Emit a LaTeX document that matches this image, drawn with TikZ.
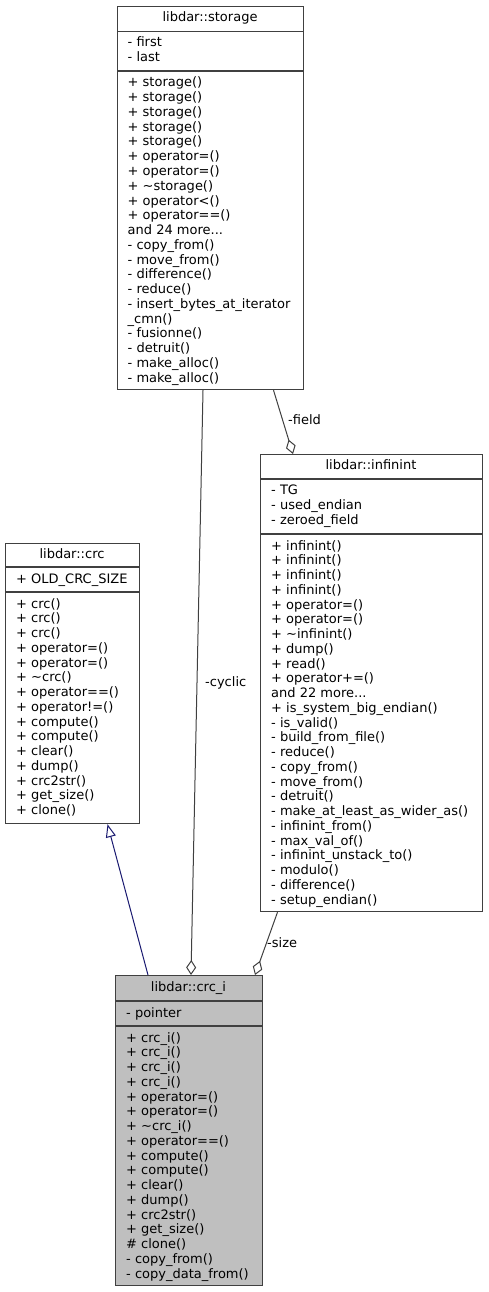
\documentclass[tikz,border=0pt]{standalone}
\usepackage{fontspec}
\setmainfont{DejaVu Sans}
\usetikzlibrary{arrows.meta}
\definecolor{nodeborder}{HTML}{404040}
\definecolor{edgegray}{HTML}{404040}
\definecolor{midnight}{HTML}{191970}
\definecolor{hlfill}{HTML}{BFBFBF}
\newcommand\fs{\fontsize{13pt}{14.75pt}\selectfont}
\newcommand\mlines[4]{\foreach \t [count=\i from 0] in {#3} \node[mtext] (#4-\i) at (#1,{#2+\i*14.75}) {\t};}
\begin{document}
\begin{tikzpicture}[x=1pt,y=-1pt,
  box/.style={draw=nodeborder, line width=1.2pt, inner sep=0pt, anchor=north west},
  sep/.style={draw=nodeborder, line width=1.2pt},
  mtext/.style={anchor=base west, inner sep=0pt, font=\fs},
  ttext/.style={anchor=base, inner sep=0pt, font=\fs},
  rel/.style={draw=edgegray, line width=1pt, -{Diamond[open,length=15pt,width=10pt,line width=1pt]}},
  inh/.style={draw=midnight, line width=1pt, -{Triangle[open,length=13pt,width=10pt,line width=1pt]}},
  elabel/.style={anchor=base west, inner sep=0pt, font=\fs}]
\useasboundingbox[fill=white] (0,0) rectangle (488,1292);

% storage
\node[box, minimum width=186, minimum height=383] (storage) at (117,6) {};
\draw[sep] (117,31.5) -- (303,31.5);
\draw[sep] (117,71) -- (303,71);
\node[ttext] (storage-title) at (210,21.5) {libdar::storage};
\mlines{127.5}{47}{- first, - last}{storageattr}
\mlines{127.5}{87}{+ storage(), + storage(), + storage(), + storage(), + storage(), + operator=(), + operator=(), + \textasciitilde storage(), + operator<(), + operator==(), {and 24 more{.}{.}{.}}, - copy\_from(), - move\_from(), - difference(), - reduce(), - insert\_bytes\_at\_iterator, \_cmn(), - fusionne(), - detruit(), - make\_alloc(), - make\_alloc()}{storagemeth}

% infinint
\node[box, minimum width=222, minimum height=457] (infinint) at (260,454) {};
\draw[sep] (260,479) -- (482,479);
\draw[sep] (260,534) -- (482,534);
\node[ttext] (infinint-title) at (371,469.5) {libdar::infinint};
\mlines{271}{494.5}{- TG, - used\_endian, - zeroed\_field}{infattr}
\mlines{271}{550}{+ infinint(), + infinint(), + infinint(), + infinint(), + operator=(), + operator=(), + \textasciitilde infinint(), + dump(), + read(), + operator+=(), {and 22 more{.}{.}{.}}, + is\_system\_big\_endian(), - is\_valid(), - build\_from\_file(), - reduce(), - copy\_from(), - move\_from(), - detruit(), - make\_at\_least\_as\_wider\_as(), - infinint\_from(), - max\_val\_of(), - infinint\_unstack\_to(), - modulo(), - difference(), - setup\_endian()}{infmeth}

% crc
\node[box, minimum width=134, minimum height=280] (crc) at (5,543) {};
\draw[sep] (5,567) -- (139,567);
\draw[sep] (5,592) -- (139,592);
\node[ttext] (crc-title) at (72,558.5) {libdar::crc};
\mlines{16}{583}{+ OLD\_CRC\_SIZE}{crcattr}
\mlines{16}{608}{+ crc(), + crc(), + crc(), + operator=(), + operator=(), + \textasciitilde crc(), + operator==(), + operator!=(), + compute(), + compute(), + clear(), + dump(), + crc2str(), + get\_size(), + clone()}{crcmeth}

% crc_i
\node[box, fill=hlfill, minimum width=147, minimum height=310] (crci) at (115,975) {};
\draw[sep] (115,1001) -- (262,1001);
\draw[sep] (115,1026) -- (262,1026);
\node[ttext] (crci-title) at (188.5,991) {libdar::crc\_i};
\mlines{126}{1017}{- pointer}{crciattr}
\mlines{126}{1042}{+ crc\_i(), + crc\_i(), + crc\_i(), + crc\_i(), + operator=(), + operator=(), + \textasciitilde crc\_i(), + operator==(), + compute(), + compute(), + clear(), + dump(), + crc2str(), + get\_size(), \# clone(), - copy\_from(), - copy\_data\_from()}{crcimeth}

% edges
\draw[rel] ([xshift=86pt]storage.south west) -- ([xshift=76pt]crci.north west);
\draw[rel] ([xshift=156.5pt]storage.south west) -- ([xshift=33pt]infinint.north west);
\draw[rel] ([xshift=17.5pt]infinint.south west) -- ([xshift=140pt]crci.north west);
\draw[inh] ([xshift=33pt]crci.north west) -- ([xshift=102.5pt]crc.south west);

\node[elabel] (lcyclic) at (205,686.5) {-cyclic};
\node[elabel] (lfield) at (288,424.5) {-field};
\node[elabel] (lsize) at (267,947) {-size};
\end{tikzpicture}
\end{document}
